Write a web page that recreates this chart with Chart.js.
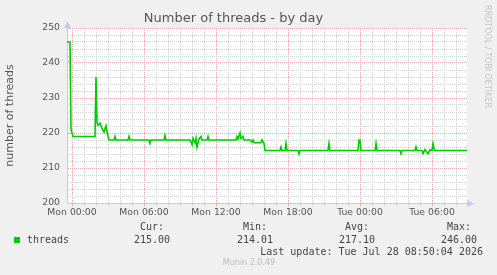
<!DOCTYPE html>
<html>
<head>
<meta charset="utf-8">
<script src="https://cdn.jsdelivr.net/npm/chart.js@4"></script>
<style>
  body { margin: 0; background: #f0f0f0; width: 497px; height: 275px; overflow: hidden; position: relative; font-family: "DejaVu Sans", sans-serif; }
  #chart { position: absolute; left: 0; top: 0; }
  .t { position: absolute; white-space: nowrap; line-height: 12px; }
  .mono { font-family: "DejaVu Sans Mono", monospace; font-size: 10px; color: #444; }
  .c { transform: translateX(-50%); }
  #swatch { position: absolute; left: 14px; top: 237px; width: 6px; height: 6px; background: #00cc00; }
  #munin { font-size: 8px; line-height: 10px; color: #bbb; }
  #rrd { font-size: 8px; line-height: 10px; color: #c4c4c4; writing-mode: vertical-rl; left: 482px; top: 5px; }
</style>
</head>
<body>
<canvas id="chart" width="497" height="275"></canvas>
<div id="rrd" class="t">RRDTOOL / TOBI OETIKER</div>
<div id="swatch"></div>
<div id="legend"></div>
<script>
// minutes since Mon 00:00, and number of threads
const times = [
  -25, -10, -5, 0, 5, 115, 120, 125, 130, 140, 150, 160, 170, 180, 185,
  210, 215, 220, 280, 285, 290, 385, 390, 395, 460, 465, 470,
  590, 595, 600, 605, 615, 620, 625, 635, 645, 650, 675, 680, 685,
  820, 825, 830, 840, 845, 855, 860, 890, 900, 905, 910, 945, 950, 960, 965,
  1040, 1045, 1050, 1065, 1070, 1075, 1130, 1135, 1140, 1280, 1285, 1290,
  1430, 1435, 1440, 1445, 1515, 1520, 1525, 1640, 1645, 1650, 1715, 1720, 1725,
  1750, 1755, 1765, 1780, 1790, 1800, 1805, 1810, 1815, 1975
];
const threads = [
  246, 246, 221, 220, 219, 219, 236, 223, 222.2, 222.8, 221.3, 220.3, 222, 219, 218,
  218, 219, 218, 218, 219, 218, 218, 217, 218, 218, 219.3, 218,
  218, 217.5, 216.7, 218.5, 217.2, 218.5, 216, 218.3, 219, 218, 218, 219, 218,
  218, 219, 218.3, 220, 218.4, 219, 218, 218, 217.4, 218, 217.2, 217.2, 218, 217, 215,
  215, 216, 215, 215, 217, 215, 215, 214.01, 215, 215, 217, 215,
  215, 218, 218, 215, 215, 217, 215, 215, 214.1, 215, 215, 216, 215,
  215, 214.1, 215.3, 214.1, 215.2, 215, 217, 215.5, 215, 215
];
const tickLabels = ['Mon 00:00', 'Mon 06:00', 'Mon 12:00', 'Mon 18:00', 'Tue 00:00', 'Tue 06:00'];
const statNames = ['Cur:', 'Min:', 'Avg:', 'Max:'];
const statValues = ['215.00', '214.01', '217.10', '246.00'];
const statCenters = [152, 255, 357, 459];

const RED = '#e8a8a8';
const GRAY = '#d4d4d4';
const AXIS = '#c8c8f4';

// fondo blanco del area de trazado + flechas de los ejes
const plotDeco = {
  id: 'plotDeco',
  beforeDraw(chart) {
    const a = chart.chartArea, ctx = chart.ctx;
    ctx.save();
    ctx.fillStyle = '#ffffff';
    ctx.fillRect(a.left, a.top, a.right - a.left, a.bottom - a.top);
    ctx.restore();
  },
  afterDraw(chart) {
    const a = chart.chartArea, ctx = chart.ctx;
    ctx.save();
    ctx.fillStyle = AXIS;
    ctx.beginPath();
    ctx.moveTo(a.left - 3, a.top);
    ctx.lineTo(a.left + 4, a.top);
    ctx.lineTo(a.left + 0.5, a.top - 7);
    ctx.closePath();
    ctx.fill();
    ctx.beginPath();
    ctx.moveTo(a.right, a.bottom - 3);
    ctx.lineTo(a.right, a.bottom + 4);
    ctx.lineTo(a.right + 7, a.bottom + 0.5);
    ctx.closePath();
    ctx.fill();
    ctx.restore();
  }
};

new Chart(document.getElementById('chart'), {
  type: 'line',
  data: {
    datasets: [{
      label: 'threads',
      data: times.map((t, i) => ({ x: t, y: threads[i] })),
      borderColor: '#00cc00',
      borderWidth: 1.6,
      pointRadius: 0,
      tension: 0,
      fill: false
    }]
  },
  options: {
    responsive: false,
    animation: false,
    layout: { padding: { left: 0, right: 30, top: 0, bottom: 52 } },
    plugins: {
      legend: { display: false },
      tooltip: { enabled: false },
      title: {
        display: true,
        text: 'Number of threads - by day',
        color: '#555',
        font: { family: 'DejaVu Sans', size: 13, weight: 'normal', lineHeight: 1.2 },
        padding: { top: 11, bottom: 1.4 }
      }
    },
    scales: {
      x: {
        type: 'linear',
        min: -25,
        max: 1975,
        afterFit: s => { s.height = 20; },
        ticks: {
          stepSize: 60,
          includeBounds: false,
          autoSkip: false,
          maxRotation: 0,
          padding: 1,
          color: '#555',
          font: { family: 'DejaVu Sans', size: 9.3 },
          callback: v => (v % 360 === 0 ? tickLabels[v / 360] : '')
        },
        grid: {
          color: c => (c.tick && c.tick.value % 360 === 0 ? RED : GRAY),
          tickColor: c => (c.tick && c.tick.value % 360 === 0 ? RED : GRAY),
          lineWidth: 1,
          tickLength: 3
        },
        border: { color: AXIS, width: 1, dash: [1, 1] }
      },
      y: {
        min: 200,
        max: 250,
        afterFit: s => { s.width = 67; },
        ticks: {
          stepSize: 2,
          autoSkip: false,
          padding: 7,
          color: '#555',
          font: { family: 'DejaVu Sans', size: 9.3 },
          callback: v => (v % 10 === 0 ? String(v) : '')
        },
        grid: {
          color: c => (c.tick && c.tick.value % 10 === 0 ? RED : GRAY),
          lineWidth: 1,
          drawTicks: false
        },
        border: { color: AXIS, width: 1, dash: [1, 1] },
        title: {
          display: true,
          text: 'number of threads',
          color: '#555',
          font: { family: 'DejaVu Sans', size: 11 },
          padding: { top: 4, bottom: 0 }
        }
      }
    }
  },
  plugins: [plotDeco]
});

// leyenda de munin (texto real en HTML)
const legend = document.getElementById('legend');
function addText(txt, cls, style) {
  const d = document.createElement('div');
  d.className = 't ' + cls;
  d.textContent = txt;
  Object.assign(d.style, style);
  legend.appendChild(d);
}
addText('threads', 'mono', { left: '27px', top: '234px' });
statNames.forEach((n, i) => {
  addText(n, 'mono c', { left: statCenters[i] + 'px', top: '221px' });
  addText(statValues[i], 'mono c', { left: statCenters[i] + 'px', top: '234px' });
});
addText('Last update: Tue Jul 28 08:50:04 2026', 'mono', { right: '14px', top: '246px' });
addText('Munin 2.0.49', 'c', { left: '249px', top: '258px', fontSize: '8px', lineHeight: '10px', color: '#bbb' });
</script>
</body>
</html>
